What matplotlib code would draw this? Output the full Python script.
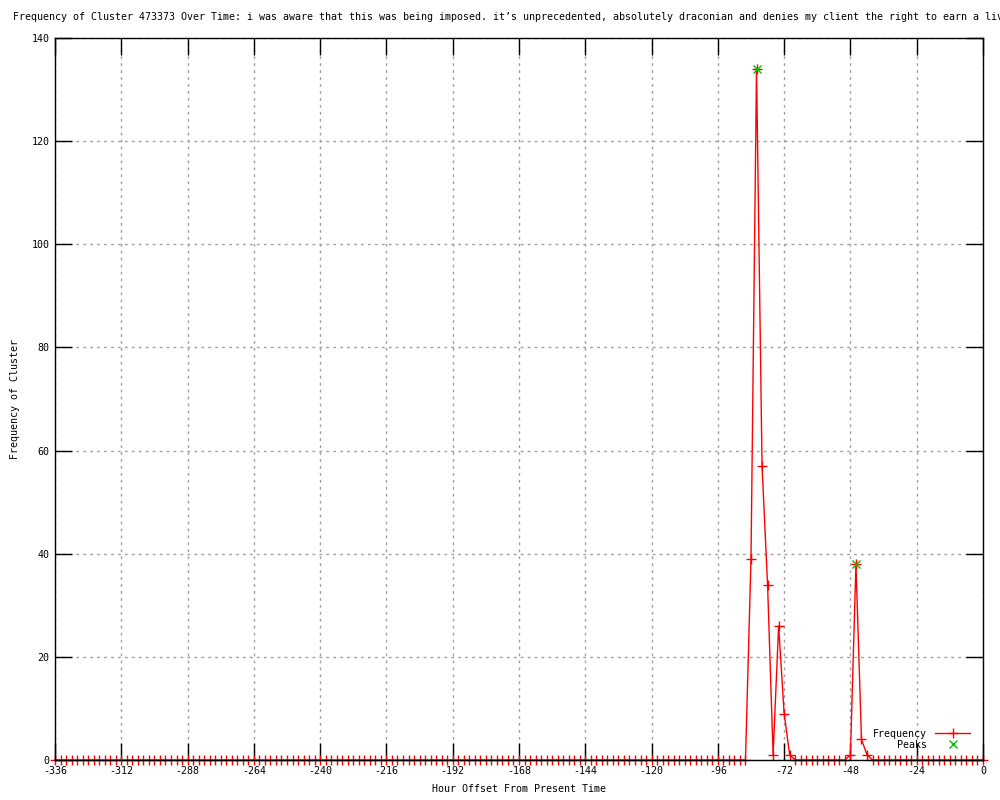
import matplotlib
matplotlib.use("Agg")
import matplotlib.pyplot as plt
import numpy as np

plt.rcParams['font.family'] = ['DejaVu Sans Mono']
plt.rcParams['axes.unicode_minus'] = False

title = ("Frequency of Cluster 473373 Over Time: i was aware that this was being imposed. "
         "it\u2019s unprecedented, absolutely draconian and denies my client the right to earn a living.")

# Hours from -336 to 0 every 2 hours
hours = list(range(-336, 1, 2))
# Non-zero frequencies (hour: count); all other hours are 0
nonzero = {-84: 39, -82: 134, -80: 57, -78: 34, -76: 1, -74: 26, -72: 9, -70: 1,
           -48: 1, -46: 38, -44: 4, -42: 1}
freq = [nonzero.get(h, 0) for h in hours]

peak_hours = [-82, -46]
peak_vals = [134, 38]

xticks = list(range(-336, 1, 24))
yticks = list(range(0, 141, 20))

fig = plt.figure(figsize=(10, 8), dpi=100)
ax = fig.add_axes([0.055, 0.05, 0.928, 0.9025])

ax.plot(hours, freq, color='#ff0000', lw=1, marker='+', ms=7, mew=1,
        label='Frequency', clip_on=False, zorder=3)
ax.plot(peak_hours, peak_vals, ls='none', color='#00c000', marker='x', ms=6, mew=1,
        label='Peaks', clip_on=False, zorder=4)

ax.set_xlim(-336, 0)
ax.set_ylim(0, 140)
ax.set_xticks(xticks)
ax.set_yticks(yticks)
ax.tick_params(direction='in', length=12, width=1, top=True, right=True,
               labelsize=7.2, pad=4, colors='black')
ax.grid(True, color='#a0a0a0', ls=(0, (2, 3)), lw=1)
for s in ax.spines.values():
    s.set_linewidth(1)
    s.set_color('black')
    s.set_zorder(5)

ax.set_xlabel('Hour Offset From Present Time', fontsize=7.2, labelpad=6)
ax.set_ylabel('Frequency of Cluster', fontsize=7.2, labelpad=8)

fig.text(0.013, 0.979, title, fontsize=7.2, ha='left', va='center')

leg = ax.legend(loc='lower right', frameon=False, markerfirst=False, fontsize=7.2,
                handlelength=3.5, borderaxespad=0.4, labelspacing=0.1,
                bbox_to_anchor=(0.995, 0.003))

fig.savefig('out.png', dpi=100)
